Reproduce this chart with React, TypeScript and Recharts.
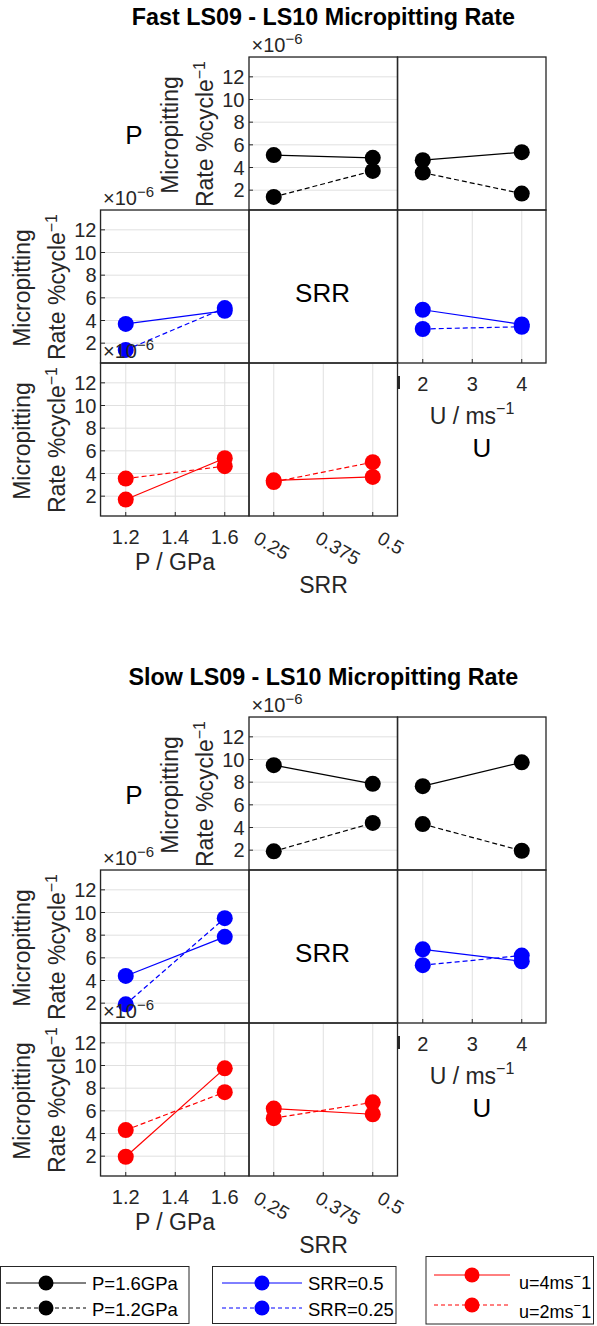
import React from 'react';
import { LineChart, Line, XAxis, YAxis, CartesianGrid } from 'recharts';

// ---- factor levels & ticks ----
const P_LEVELS = [1.2, 1.6];
const SRR_LEVELS = [0.25, 0.5];
const U_LEVELS = [2, 4];
const P_TICKS = [1.2, 1.4, 1.6];
const SRR_TICKS = [0.25, 0.375, 0.5];
const U_TICKS = [2, 3, 4];
const Y_TICKS = [2, 4, 6, 8, 10, 12];

// ---- Fast (values x1e-6 %/cycle) ----
const fastP16vsSRR = [5.1, 4.85];
const fastP12vsSRR = [1.4, 3.7];
const fastP16vsU = [4.65, 5.35];
const fastP12vsU = [3.55, 1.7];
const fastSRR05vsP = [3.7, 4.85];
const fastSRR025vsP = [1.4, 5.1];
const fastSRR05vsU = [4.95, 3.65];
const fastSRR025vsU = [3.25, 3.45];
const fastU4vsP = [1.7, 5.35];
const fastU2vsP = [3.55, 4.65];
const fastU4vsSRR = [3.4, 3.7];
const fastU2vsSRR = [3.25, 5.0];

// ---- Slow ----
const slowP16vsSRR = [9.5, 7.85];
const slowP12vsSRR = [1.9, 4.4];
const slowP16vsU = [7.65, 9.75];
const slowP12vsU = [4.3, 1.95];
const slowSRR05vsP = [4.4, 7.85];
const slowSRR025vsP = [1.9, 9.5];
const slowSRR05vsU = [6.75, 5.7];
const slowSRR025vsU = [5.35, 6.2];
const slowU4vsP = [1.95, 9.75];
const slowU2vsP = [4.3, 7.65];
const slowU4vsSRR = [6.2, 5.7];
const slowU2vsSRR = [5.35, 6.75];

const FONT = "'Liberation Sans', Arial, sans-serif";
const AX = '#262626';
const PW = 148.5;
const PH = 153;
const TICK_FS = 20;
const LABEL_FS = 23;
const ROT_OFFSETS = [-21.4, -9.3, 3.3];

const RotTick = (props: any) => {
  const { x, y, payload } = props;
  const i = SRR_TICKS.indexOf(payload.value);
  const px = x + (ROT_OFFSETS[i] ?? -9);
  const py = y + 26;
  return (
    <text x={px} y={py} transform={`rotate(30 ${px} ${py})`} fill={AX} fontSize={TICK_FS - 1} textAnchor="start" fontFamily={FONT}>
      {String(payload.value)}
    </text>
  );
};

type PanelProps = {
  left: number;
  top: number;
  xs: number[];
  solid: number[];
  dashed: number[];
  color: string;
  xDomain: [number, number];
  xTicks: number[];
  showY?: boolean;
  xLabels?: 'none' | 'normal' | 'rotated';
};

function Panel(p: PanelProps) {
  const yW = p.showY ? 60 : 0;
  const mode = p.xLabels || 'none';
  const xH = mode === 'none' ? 0 : 60;
  const extraR = mode === 'rotated' ? 50 : 0;
  const data = p.xs.map((x, i) => ({ x, s: p.solid[i], d: p.dashed[i] }));
  let xTick: any = false;
  if (mode === 'normal') xTick = { fill: AX, fontSize: TICK_FS };
  if (mode === 'rotated') xTick = <RotTick />;
  const tm = mode === 'rotated' ? 4 : 18;
  return (
    <div style={{ position: 'absolute', left: p.left - yW, top: p.top }}>
      <LineChart width={PW + yW + extraR} height={PH + xH} data={data} margin={{ top: 0, right: extraR, bottom: 0, left: 0 }}>
        <CartesianGrid xAxisId="b" yAxisId="l" stroke="#e0e0e0" strokeWidth={1} />
        <XAxis
          xAxisId="b"
          dataKey="x"
          type="number"
          domain={p.xDomain}
          ticks={p.xTicks}
          allowDataOverflow
          interval={0}
          height={xH}
          tick={xTick}
          tickSize={-4}
          tickMargin={tm}
          tickLine={{ stroke: AX }}
          axisLine={false}
        />
        <YAxis
          yAxisId="l"
          type="number"
          domain={[0.25, 13.75]}
          ticks={Y_TICKS}
          allowDataOverflow
          interval={0}
          width={yW}
          tick={p.showY ? { fill: AX, fontSize: TICK_FS } : false}
          tickSize={-4}
          tickMargin={8.5}
          tickLine={{ stroke: AX }}
          axisLine={false}
        />
        <Line
          xAxisId="b"
          yAxisId="l"
          dataKey="s"
          stroke={p.color}
          strokeWidth={1.2}
          dot={{ r: 8, fill: p.color, stroke: p.color, strokeWidth: 0 }}
          activeDot={false}
          isAnimationActive={false}
        />
        <Line
          xAxisId="b"
          yAxisId="l"
          dataKey="d"
          stroke={p.color}
          strokeWidth={1.2}
          strokeDasharray="5 3"
          dot={{ r: 8, fill: p.color, stroke: p.color, strokeWidth: 0 }}
          activeDot={false}
          isAnimationActive={false}
        />
      </LineChart>
    </div>
  );
}

const COLS = [100.5, 249, 397.5];
const ROWS = [57, 210, 363];
const PDOM: [number, number] = [1.1, 1.7];
const SDOM: [number, number] = [0.1875, 0.5625];
const UDOM: [number, number] = [1.5, 4.5];

type BlockData = {
  pSRR: [number[], number[]];
  pU: [number[], number[]];
  sP: [number[], number[]];
  sU: [number[], number[]];
  uP: [number[], number[]];
  uS: [number[], number[]];
};

function Block({ dy, d }: { dy: number; d: BlockData }) {
  return (
    <>
      <Panel left={COLS[1]} top={ROWS[0] + dy} xs={SRR_LEVELS} solid={d.pSRR[0]} dashed={d.pSRR[1]} color="#000000" xDomain={SDOM} xTicks={SRR_TICKS} showY />
      <Panel left={COLS[2]} top={ROWS[0] + dy} xs={U_LEVELS} solid={d.pU[0]} dashed={d.pU[1]} color="#000000" xDomain={UDOM} xTicks={U_TICKS} />
      <Panel left={COLS[0]} top={ROWS[1] + dy} xs={P_LEVELS} solid={d.sP[0]} dashed={d.sP[1]} color="#0000ff" xDomain={PDOM} xTicks={P_TICKS} showY />
      <Panel left={COLS[2]} top={ROWS[1] + dy} xs={U_LEVELS} solid={d.sU[0]} dashed={d.sU[1]} color="#0000ff" xDomain={UDOM} xTicks={U_TICKS} xLabels="normal" />
      <Panel left={COLS[0]} top={ROWS[2] + dy} xs={P_LEVELS} solid={d.uP[0]} dashed={d.uP[1]} color="#ff0000" xDomain={PDOM} xTicks={P_TICKS} showY xLabels="normal" />
      <Panel left={COLS[1]} top={ROWS[2] + dy} xs={SRR_LEVELS} solid={d.uS[0]} dashed={d.uS[1]} color="#ff0000" xDomain={SDOM} xTicks={SRR_TICKS} xLabels="rotated" />
    </>
  );
}

function YLabel({ L, T }: { L: number; T: number }) {
  return (
    <g fill={AX} fontSize={LABEL_FS}>
      <text transform={`translate(${L - 71},${T + 78}) rotate(-90)`} textAnchor="middle">Micropitting</text>
      <text transform={`translate(${L - 36},${T + 77}) rotate(-90)`} textAnchor="middle">
        Rate %cycle<tspan dy={-8} fontSize={16}>−1</tspan>
      </text>
    </g>
  );
}

function Exp({ L, T }: { L: number; T: number }) {
  return (
    <text x={L + 2.5} y={T - 5} fill={AX} fontSize={TICK_FS}>
      ×10<tspan dy={-8} fontSize={15}>−6</tspan>
    </text>
  );
}

const CELLS: [number, number][] = [
  [0, 1], [0, 2], [1, 0], [1, 1], [1, 2], [2, 0], [2, 1],
];

function BlockText({ dy, title }: { dy: number; title: string }) {
  return (
    <g fontFamily={FONT}>
      {CELLS.map(([r, c]) => (
        <rect key={`${r}-${c}`} x={COLS[c]} y={ROWS[r] + dy} width={PW} height={PH} fill="none" stroke={AX} strokeWidth={1.3} />
      ))}
      <text x={323.4} y={25 + dy} textAnchor="middle" fontWeight="bold" fontSize={23.3} fill="#000">{title}</text>
      <text x={134} y={144 + dy} textAnchor="middle" fontSize={26} fill="#000">P</text>
      <text x={322.5} y={302 + dy} textAnchor="middle" fontSize={26} fill="#000">SRR</text>
      <text x={482} y={457 + dy} textAnchor="middle" fontSize={26} fill="#000">U</text>
      <YLabel L={COLS[1]} T={ROWS[0] + dy} />
      <YLabel L={COLS[0]} T={ROWS[1] + dy} />
      <YLabel L={COLS[0]} T={ROWS[2] + dy} />
      <Exp L={COLS[1]} T={ROWS[0] + dy} />
      <Exp L={COLS[0]} T={ROWS[1] + dy} />
      <Exp L={COLS[0]} T={ROWS[2] + dy} />
      <text x={175} y={570 + dy} textAnchor="middle" fontSize={LABEL_FS} fill={AX}>P / GPa</text>
      <text x={323.5} y={593 + dy} textAnchor="middle" fontSize={LABEL_FS} fill={AX}>SRR</text>
      <text x={472} y={424 + dy} textAnchor="middle" fontSize={LABEL_FS} fill={AX}>
        U / ms<tspan dy={-10} fontSize={16}>−1</tspan>
      </text>
      <rect x={397} y={376 + dy} width={3} height={13} fill={AX} />
    </g>
  );
}

function LegendEntry({ x1, x2, y, ty, tx, color, dashed, fs, children }: any) {
  return (
    <g>
      <line x1={x1} x2={x2} y1={y} y2={y} stroke={color} strokeWidth={1} strokeDasharray={dashed ? '4 3' : undefined} />
      <circle cx={(x1 + x2) / 2} cy={y} r={7.5} fill={color} />
      <text x={tx} y={ty} fontSize={fs ?? 18.5} fill="#000">{children}</text>
    </g>
  );
}

function Legends() {
  return (
    <g fontFamily={FONT}>
      <rect x={0.5} y={1266.5} width={188.5} height={57} fill="#fff" stroke={AX} />
      <LegendEntry x1={6} x2={86} y={1283} tx={92} ty={1290} color="#000">P=1.6GPa</LegendEntry>
      <LegendEntry x1={6} x2={86} y={1308} tx={92} ty={1316} color="#000" dashed>P=1.2GPa</LegendEntry>

      <rect x={212.5} y={1266.5} width={183.5} height={57} fill="#fff" stroke={AX} />
      <LegendEntry x1={222} x2={302} y={1283} tx={308} ty={1290} color="#0000ff">SRR=0.5</LegendEntry>
      <LegendEntry x1={222} x2={302} y={1308} tx={308} ty={1316} color="#0000ff" dashed>SRR=0.25</LegendEntry>

      <rect x={426} y={1256.5} width={167.5} height={67.5} fill="#fff" stroke={AX} />
      <LegendEntry x1={434} x2={510} y={1275} tx={519} ty={1289} color="#ff0000" fs={18}>
        u=4ms<tspan dy={-8} fontSize={13}>−</tspan><tspan dy={8}>1</tspan>
      </LegendEntry>
      <LegendEntry x1={434} x2={510} y={1305} tx={519} ty={1318} color="#ff0000" dashed fs={18}>
        u=2ms<tspan dy={-8} fontSize={13}>−</tspan><tspan dy={8}>1</tspan>
      </LegendEntry>
    </g>
  );
}

const FAST: BlockData = {
  pSRR: [fastP16vsSRR, fastP12vsSRR],
  pU: [fastP16vsU, fastP12vsU],
  sP: [fastSRR05vsP, fastSRR025vsP],
  sU: [fastSRR05vsU, fastSRR025vsU],
  uP: [fastU4vsP, fastU2vsP],
  uS: [fastU4vsSRR, fastU2vsSRR],
};
const SLOW: BlockData = {
  pSRR: [slowP16vsSRR, slowP12vsSRR],
  pU: [slowP16vsU, slowP12vsU],
  sP: [slowSRR05vsP, slowSRR025vsP],
  sU: [slowSRR05vsU, slowSRR025vsU],
  uP: [slowU4vsP, slowU2vsP],
  uS: [slowU4vsSRR, slowU2vsSRR],
};

export default function App() {
  return (
    <div style={{ position: 'absolute', left: 0, top: 0, width: 597, height: 1326, background: '#fff', fontFamily: FONT, overflow: 'hidden' }}>
      <Block dy={0} d={FAST} />
      <Block dy={660} d={SLOW} />
      <svg width={597} height={1326} style={{ position: 'absolute', left: 0, top: 0, pointerEvents: 'none' }}>
        <BlockText dy={0} title="Fast LS09 - LS10 Micropitting Rate" />
        <BlockText dy={660} title="Slow LS09 - LS10 Micropitting Rate" />
        <Legends />
      </svg>
    </div>
  );
}
